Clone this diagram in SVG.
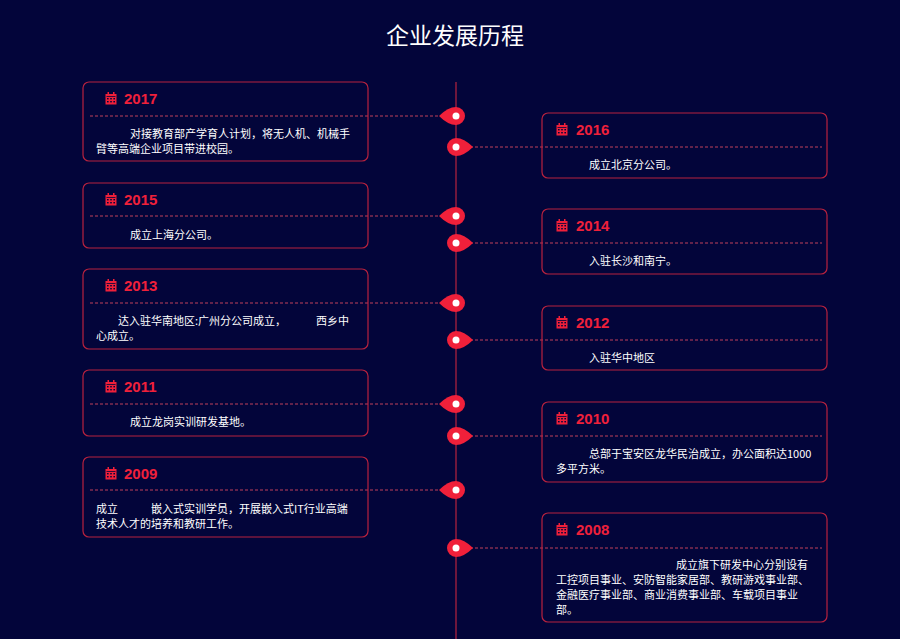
<svg xmlns="http://www.w3.org/2000/svg" width="900" height="639" viewBox="0 0 900 639">
<style>
.box{fill:none;stroke:#b8223e;stroke-width:1.2}
.dash{stroke:#c0405a;stroke-width:1;stroke-dasharray:3 2;fill:none}
.yr{font-family:"Liberation Sans","Noto Sans CJK SC",sans-serif;font-weight:bold;font-size:15px;fill:#f0203a}
.t{font-family:"Noto Sans CJK SC",sans-serif;font-size:11px;fill:#ffffff}
.title{font-family:"Noto Sans CJK SC",sans-serif;font-size:23px;fill:#ffffff}
</style>
<defs>
<symbol id="cal" viewBox="0 0 12 13">
<rect x="0.5" y="2" width="11" height="10.5" fill="#f0203a"/>
<rect x="2.5" y="0" width="1.5" height="3" fill="#f0203a"/>
<rect x="8" y="0" width="1.5" height="3" fill="#f0203a"/>
<g fill="#03053a"><rect x="1.5" y="4" width="9" height="0.8"/><rect x="2" y="6" width="1.6" height="1.4"/><rect x="5.2" y="6" width="1.6" height="1.4"/><rect x="8.4" y="6" width="1.6" height="1.4"/><rect x="2" y="9" width="1.6" height="1.4"/><rect x="5.2" y="9" width="1.6" height="1.4"/><rect x="8.4" y="9" width="1.6" height="1.4"/></g>
</symbol>
<g id="pinL"><path d="M-17 0 Q-8 -9 0 -9 A9 9 0 0 1 0 9 Q-8 9 -17 0Z" fill="#f0203a"/><circle r="3.5" fill="#fff"/></g>
<g id="pinR"><path d="M17 0 Q8 -9 0 -9 A9 9 0 0 0 0 9 Q8 9 17 0Z" fill="#f0203a"/><circle r="3.5" fill="#fff"/></g>
</defs>
<rect width="900" height="639" fill="#03053a"/>
<text class="title" x="455" y="44" text-anchor="middle">企业发展历程</text>
<g id="connectors">
<line x1="456" y1="82" x2="456" y2="639" stroke="#b8223e" stroke-width="1.2"/>
<line class="dash" x1="90" y1="116" x2="442" y2="116"/>
<line class="dash" x1="90" y1="216" x2="442" y2="216"/>
<line class="dash" x1="90" y1="303" x2="442" y2="303"/>
<line class="dash" x1="90" y1="404" x2="442" y2="404"/>
<line class="dash" x1="90" y1="490" x2="442" y2="490"/>
<line class="dash" x1="470" y1="147" x2="822" y2="147"/>
<line class="dash" x1="470" y1="243" x2="822" y2="243"/>
<line class="dash" x1="470" y1="340" x2="822" y2="340"/>
<line class="dash" x1="470" y1="436" x2="822" y2="436"/>
<line class="dash" x1="470" y1="548" x2="822" y2="548"/>
<use href="#pinL" x="456" y="116"/><use href="#pinL" x="456" y="216"/><use href="#pinL" x="456" y="303"/><use href="#pinL" x="456" y="404"/><use href="#pinL" x="456" y="490"/>
<use href="#pinR" x="456" y="147"/><use href="#pinR" x="456" y="243"/><use href="#pinR" x="456" y="340"/><use href="#pinR" x="456" y="436"/><use href="#pinR" x="456" y="548"/>
</g>
<g id="n2017"><rect class="box" x="83" y="82" width="285" height="79" rx="6"/><use href="#cal" x="105" y="92" width="12" height="13"/><text class="yr" x="124" y="104">2017</text>
<text class="t" x="130" y="138">对接教育部产学育人计划，将无人机、机械手</text><text class="t" x="96" y="153">臂等高端企业项目带进校园。</text></g>
<g id="n2016"><rect class="box" x="542" y="113" width="285" height="65" rx="6"/><use href="#cal" x="556" y="123" width="12" height="13"/><text class="yr" x="576" y="135">2016</text><text class="t" x="589" y="169">成立北京分公司。</text></g>
<g id="n2015"><rect class="box" x="83" y="183" width="285" height="65" rx="6"/><use href="#cal" x="105" y="193" width="12" height="13"/><text class="yr" x="124" y="205">2015</text><text class="t" x="130" y="239">成立上海分公司。</text></g>
<g id="n2014"><rect class="box" x="542" y="209" width="285" height="65" rx="6"/><use href="#cal" x="556" y="219" width="12" height="13"/><text class="yr" x="576" y="231">2014</text><text class="t" x="589" y="265">入驻长沙和南宁。</text></g>
<g id="n2013"><rect class="box" x="83" y="269" width="285" height="80" rx="6"/><use href="#cal" x="105" y="279" width="12" height="13"/><text class="yr" x="124" y="291">2013</text><text class="t" x="118" y="325">达入驻华南地区:广州分公司成立，</text><text class="t" x="316" y="325">西乡中</text><text class="t" x="96" y="340">心成立。</text></g>
<g id="n2012"><rect class="box" x="542" y="306" width="285" height="64" rx="6"/><use href="#cal" x="556" y="316" width="12" height="13"/><text class="yr" x="576" y="328">2012</text><text class="t" x="589" y="362">入驻华中地区</text></g>
<g id="n2011"><rect class="box" x="83" y="370" width="285" height="66" rx="6"/><use href="#cal" x="105" y="380" width="12" height="13"/><text class="yr" x="124" y="392">2011</text><text class="t" x="130" y="426">成立龙岗实训研发基地。</text></g>
<g id="n2010"><rect class="box" x="542" y="402" width="285" height="80" rx="6"/><use href="#cal" x="556" y="412" width="12" height="13"/><text class="yr" x="576" y="424">2010</text><text class="t" x="589" y="458">总部于宝安区龙华民治成立，办公面积达1000</text><text class="t" x="556" y="473">多平方米。</text></g>
<g id="n2009"><rect class="box" x="83" y="457" width="285" height="80" rx="6"/><use href="#cal" x="105" y="467" width="12" height="13"/><text class="yr" x="124" y="479">2009</text><text class="t" x="96" y="513">成立</text><text class="t" x="151" y="513">嵌入式实训学员，开展嵌入式IT行业高端</text><text class="t" x="96" y="528">技术人才的培养和教研工作。</text></g>
<g id="n2008"><rect class="box" x="542" y="513" width="285" height="109" rx="6"/><use href="#cal" x="556" y="523" width="12" height="13"/><text class="yr" x="576" y="535">2008</text>
<text class="t" x="676" y="569">成立旗下研发中心分别设有</text><text class="t" x="556" y="584">工控项目事业、安防智能家居部、教研游戏事业部、</text><text class="t" x="556" y="599">金融医疗事业部、商业消费事业部、车载项目事业</text><text class="t" x="556" y="614">部。</text></g>
</svg>
